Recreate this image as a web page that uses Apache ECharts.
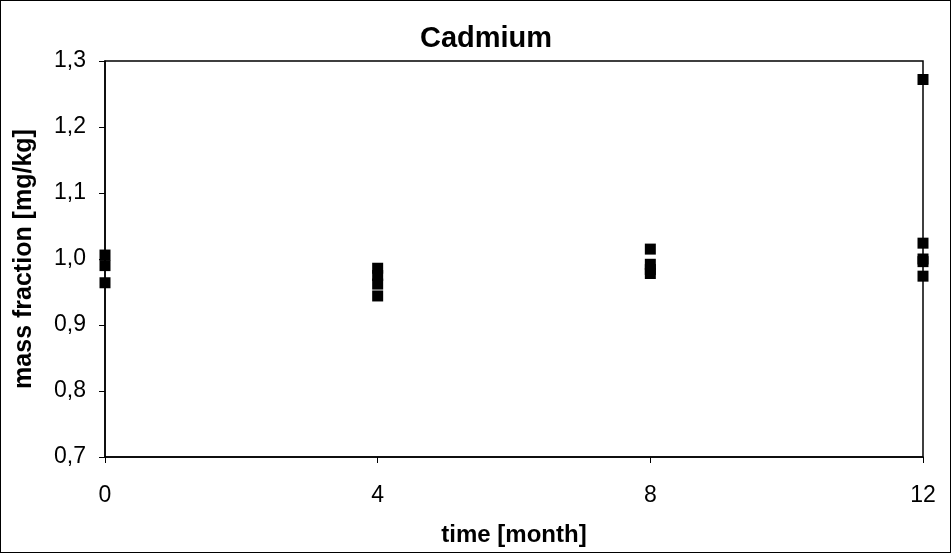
<!DOCTYPE html>
<html>
<head>
<meta charset="utf-8">
<script src="https://cdn.jsdelivr.net/npm/echarts@6/dist/echarts.min.js"></script>
<style>
  html, body { margin: 0; padding: 0; background: #fff; }
  #chart { width: 951px; height: 553px; box-sizing: border-box; border: 1px solid #000; }
</style>
</head>
<body>
<div id="chart"></div>
<script>
  // months and measured mass fractions (mg/kg)
  var months = [0, 0, 0, 4, 4, 4, 4, 8, 8, 8, 8, 12, 12, 12, 12, 12];
  var values = [1.006, 0.99, 0.964, 0.986, 0.975, 0.962, 0.944, 1.015, 0.992, 0.984, 0.978, 1.272, 1.024, 1.0, 0.996, 0.974];

  var points = months.map(function (m, i) { return [m, values[i]]; });

  var myChart = echarts.init(document.getElementById('chart'));
  var font = '"Liberation Sans", Arial, sans-serif';
  var option = {
    animation: false,
    title: {
      text: 'Cadmium',
      left: 480,
      textAlign: 'center',
      top: 18,
      textStyle: { fontFamily: font, fontSize: 29, fontWeight: 'bold', color: '#000' }
    },
    grid: {
      left: 104,
      right: 27,
      top: 60,
      bottom: 94,
      show: true,
      borderColor: '#000',
      borderWidth: 1.5
    },
    xAxis: {
      type: 'value',
      min: 0,
      max: 12,
      interval: 4,
      name: 'time [month]',
      nameLocation: 'middle',
      nameGap: 66,
      nameTextStyle: { fontFamily: font, fontSize: 24, fontWeight: 'bold', color: '#000' },
      axisLine: { lineStyle: { color: '#000', width: 1.5 } },
      axisTick: { show: true, inside: false, length: 6, lineStyle: { color: '#000' } },
      axisLabel: { fontFamily: font, fontSize: 23, color: '#000', margin: 27 },
      splitLine: { show: false }
    },
    yAxis: {
      type: 'value',
      min: 0.7,
      max: 1.3,
      interval: 0.1,
      name: 'mass fraction [mg/kg]',
      nameLocation: 'middle',
      nameGap: 68,
      nameTextStyle: { fontFamily: font, fontSize: 25, fontWeight: 'bold', color: '#000' },
      axisLine: { show: true, lineStyle: { color: '#000', width: 1.5 } },
      axisTick: { show: true, inside: false, length: 6, lineStyle: { color: '#000' } },
      axisLabel: {
        fontFamily: font, fontSize: 23, color: '#000', margin: 19,
        formatter: function (v) { return v.toFixed(1).replace('.', ','); }
      },
      splitLine: { show: false }
    },
    series: [{
      type: 'scatter',
      symbol: 'rect',
      symbolSize: 11,
      itemStyle: { color: '#000', opacity: 1 },
      data: points
    }]
  };
  myChart.setOption(option);
</script>
</body>
</html>
